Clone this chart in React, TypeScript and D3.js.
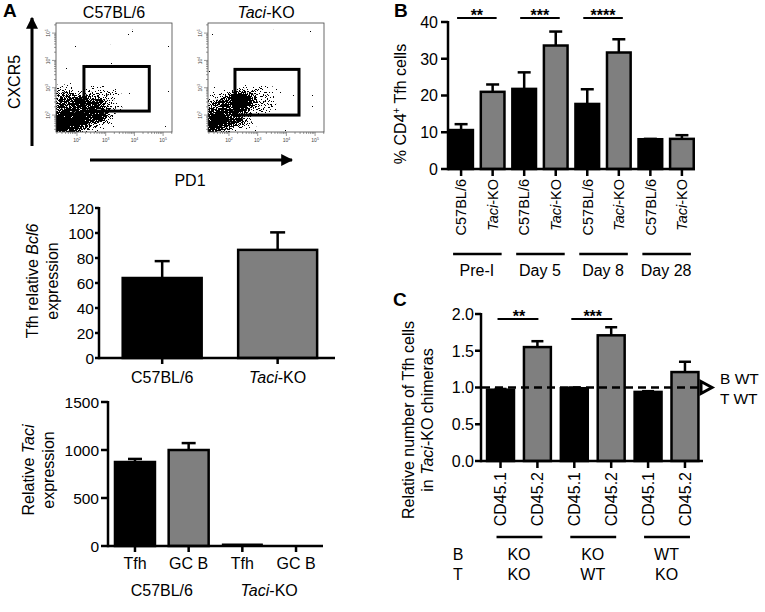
import React from "react";
import * as d3 from "d3";

// ---------- Panel A: flow cytometry ----------
const flowTitles = ["C57BL/6", "Taci-KO"];
const flowDecades = [2, 3, 4, 5];
const gatePD1 = [[175, 33000], [162, 27500]];
const gateCXCR5 = [[140, 6000], [100, 4700]];
// density blobs: [log10 PD1, log10 CXCR5, spread x (decades), spread y (decades), weight]
const cloudsWT = [
  [1.55, 1.65, 1.0, 0.75, 1],
  [2.2, 2.2, 1.05, 0.8, 0.75],
  [2.9, 2.45, 1.1, 0.85, 0.45],
  [1.55, 2.6, 0.6, 0.7, 0.6],
  [2.6, 1.85, 0.8, 0.55, 0.5],
];
const cloudsKO = [
  [2.4, 2.55, 0.65, 0.45, 1],
  [1.45, 1.64, 0.85, 0.6, 0.95],
  [1.86, 2.2, 0.95, 0.8, 0.75],
  [3.0, 2.55, 1.05, 0.8, 0.45],
  [2.3, 1.8, 0.7, 0.5, 0.5],
];

// ---------- Panel A: Bcl6 ----------
const bcl6Groups = ["C57BL/6", "Taci-KO"];
const bcl6Values = [64, 86.5];
const bcl6Errors = [13.5, 14];
const bcl6Ticks = [0, 20, 40, 60, 80, 100, 120];

// ---------- Panel A: Taci ----------
const taciCells = ["Tfh", "GC B", "Tfh ", "GC B "];
const taciStrains = ["C57BL/6", "Taci-KO"];
const taciValues = [875, 1000, 8, 0];
const taciErrors = [32, 72, 0, 0];
const taciTicks = [0, 500, 1000, 1500];

// ---------- Panel B ----------
const bLabels = ["C57BL/6", "Taci-KO", "C57BL/6", "Taci-KO", "C57BL/6", "Taci-KO", "C57BL/6", "Taci-KO"];
const bTimes = ["Pre-I", "Day 5", "Day 8", "Day 28"];
const bValues = [10.6, 21, 21.8, 33.6, 17.7, 31.7, 8.1, 8.2];
const bErrors = [1.6, 2, 4.5, 3.8, 4, 3.6, 0.1, 1];
const bTicks = [0, 10, 20, 30, 40];
const bSig = ["**", "***", "****"];

// ---------- Panel C ----------
const cLabels = ["CD45.1", "CD45.2", "CD45.1", "CD45.2", "CD45.1", "CD45.2"];
const cB = ["KO", "KO", "WT"];
const cT = ["KO", "WT", "KO"];
const cValues = [0.97, 1.55, 0.99, 1.71, 0.94, 1.21];
const cErrors = [0.01, 0.08, 0.01, 0.11, 0.01, 0.14];
const cTicks = [0, 0.5, 1, 1.5, 2];
const cSig = ["**", "***"];
const cReference = 1.0;

const FONT = "Liberation Sans, Arial, Helvetica, sans-serif";
const GRAY = "#7f7f7f";
const LW = 2.5;

function label(s: string) {
  if (s.startsWith("Taci")) {
    return (
      <>
        <tspan fontStyle="italic">Taci</tspan>
        {s.slice(4)}
      </>
    );
  }
  return s.trim();
}

function FlowPlot({ ox, idx, clouds }: { ox: number; idx: number; clouds: number[][] }) {
  const x = d3.scaleLog().domain([10 ** 1.27, 10 ** 5.31]).range([ox, ox + 116]);
  const y = d3.scaleLog().domain([10 ** 1.38, 10 ** 5.37]).range([132, 23]);
  const [x0, x1] = x.range();
  const [yb, yt] = y.range();
  const xt = x.ticks();
  const yt2 = y.ticks();
  const g = gatePD1[idx];
  const c = gateCXCR5[idx];
  const clipId = `clip${idx}`;
  const isMajor = (t: number) => Math.abs(Math.log10(t) - Math.round(Math.log10(t))) < 1e-6;
  return (
    <g>
      <clipPath id={clipId}>
        <rect x={x0} y={yt} width={x1 - x0} height={yb - yt} />
      </clipPath>
      <g clipPath={`url(#${clipId})`}>
        <g filter="url(#speckle)">
          {clouds.map((d, i) => {
            const cx = x(10 ** d[0]);
            const cy = y(10 ** d[1]);
            const rx = x(10 ** (d[0] + d[2])) - cx;
            const ry = cy - y(10 ** (d[1] + d[3]));
            return <ellipse key={i} cx={cx} cy={cy} rx={rx} ry={ry} fill="url(#blob)" fillOpacity={d[4]} />;
          })}
        </g>
      </g>
      <rect x={x0} y={yt} width={x1 - x0} height={yb - yt} fill="none" stroke="#444" strokeWidth={0.8} />
      {xt.map((t, i) => (
        <line key={i} x1={x(t)} x2={x(t)} y1={yb} y2={yb + (isMajor(t) ? 4 : 2)} stroke="#555" strokeWidth={0.6} />
      ))}
      {yt2.map((t, i) => (
        <line key={i} y1={y(t)} y2={y(t)} x1={x0} x2={x0 - (isMajor(t) ? 4 : 2)} stroke="#555" strokeWidth={0.6} />
      ))}
      {flowDecades.map((p) => (
        <text key={"x" + p} x={x(10 ** p)} y={yb + 10} fontSize={5} textAnchor="middle" fill="#444">
          10<tspan dy={-2} fontSize={3.5}>{p}</tspan>
        </text>
      ))}
      {flowDecades.map((p) => (
        <text key={"y" + p} transform={`translate(${x0 - 6},${y(10 ** p)}) rotate(-90)`} fontSize={5} textAnchor="middle" fill="#444">
          10<tspan dy={-2} fontSize={3.5}>{p}</tspan>
        </text>
      ))}
      <rect x={x(g[0])} y={y(c[1])} width={x(g[1]) - x(g[0])} height={y(c[0]) - y(c[1])} fill="none" stroke="#000" strokeWidth={3} />
      <text x={(x0 + x1) / 2} y={18} fontSize={16} textAnchor="middle">
        {label(flowTitles[idx])}
      </text>
    </g>
  );
}

type BarProps = {
  ax0: number;
  ax1: number;
  yScale: d3.ScaleLinear<number, number>;
  band: d3.ScaleBand<string>;
  cats: string[];
  values: number[];
  errors: number[];
  ticks: number[];
  fmt: (v: number) => string;
  tickLen: number;
  labelGap: number;
  xTickLen: number;
  fontSize: number;
  cap: number;
  fills: string[];
};

function BarChart(p: BarProps) {
  const y0 = p.yScale(0);
  const yTop = p.yScale(p.ticks[p.ticks.length - 1]);
  return (
    <g>
      {p.cats.map((c, i) => {
        const bx = p.band(c)!;
        const bw = p.band.bandwidth();
        const v = p.values[i];
        const e = p.errors[i];
        const cx = bx + bw / 2;
        const thin = y0 - p.yScale(v) < 3;
        return (
          <g key={i}>
            {e > 0 && (
              <g stroke="#000" strokeWidth={LW}>
                <line x1={cx} x2={cx} y1={p.yScale(v)} y2={p.yScale(v + e)} />
                <line x1={cx - p.cap / 2} x2={cx + p.cap / 2} y1={p.yScale(v + e)} y2={p.yScale(v + e)} />
              </g>
            )}
            {v > 0 && (
              <rect x={bx} y={thin ? y0 - 2 : p.yScale(v)} width={bw} height={thin ? 1 : y0 - p.yScale(v)} fill={p.fills[i]} stroke="#000" strokeWidth={thin ? 1 : LW} />
            )}
            <line x1={cx} x2={cx} y1={y0} y2={y0 + p.xTickLen} stroke="#000" strokeWidth={LW} />
          </g>
        );
      })}
      <line x1={p.ax0} x2={p.ax0} y1={yTop - 1} y2={y0 + LW / 2} stroke="#000" strokeWidth={LW} />
      <line x1={p.ax0} x2={p.ax1} y1={y0} y2={y0} stroke="#000" strokeWidth={LW} />
      {p.ticks.map((t) => (
        <g key={t}>
          <line x1={p.ax0 - p.tickLen} x2={p.ax0} y1={p.yScale(t)} y2={p.yScale(t)} stroke="#000" strokeWidth={LW} />
          <text x={p.ax0 - p.labelGap} y={p.yScale(t)} dy="0.36em" fontSize={p.fontSize} textAnchor="end">
            {p.fmt(t)}
          </text>
        </g>
      ))}
    </g>
  );
}

function RotTitle({ x, y, lines, size = 16 }: { x: number[]; y: number; lines: React.ReactNode[]; size?: number }) {
  return (
    <>
      {lines.map((l, i) => (
        <text key={i} transform={`translate(${x[i]},${y}) rotate(-90)`} dy="0.36em" fontSize={size} textAnchor="middle">
          {l}
        </text>
      ))}
    </>
  );
}

export default function App() {
  // A middle
  const bcl6Y = d3.scaleLinear().domain([0, 120]).range([358, 208]);
  const bcl6X = d3.scaleBand().domain(bcl6Groups).range([99, 335]).paddingInner(0.316).paddingOuter(0.18).align(0.57);
  // A bottom
  const taciY = d3.scaleLinear().domain([0, 1500]).range([546, 402]);
  const taciX = d3.scaleBand().domain(taciCells).range([108, 323]).paddingInner(0.255).paddingOuter(0.13);
  // B
  const bY = d3.scaleLinear().domain([0, 40]).range([169, 22]);
  const bKeys = bLabels.map((l, i) => l + i);
  const bX = d3.scaleBand().domain(bKeys).range([448, 695]).paddingInner(0.25).paddingOuter(0.04);
  // C
  const cY = d3.scaleLinear().domain([0, 2]).range([461, 314]);
  const cKeys = cLabels.map((l, i) => l + i);
  const cX = d3.scaleBand().domain(cKeys).range([481, 703]).paddingInner(0.27).paddingOuter(0.144).align(0.57);

  const center = (s: d3.ScaleBand<string>, k: string) => s(k)! + s.bandwidth() / 2;

  return (
    <svg width={765} height={612} style={{ position: "absolute", left: 0, top: 0, background: "#fff" }} fontFamily={FONT}>
      <defs>
        <radialGradient id="blob">
          <stop offset="0%" stopColor="#000" stopOpacity={1} />
          <stop offset="55%" stopColor="#000" stopOpacity={0.7} />
          <stop offset="100%" stopColor="#000" stopOpacity={0} />
        </radialGradient>
        <filter id="speckle" filterUnits="userSpaceOnUse" x="0" y="0" width="765" height="200" colorInterpolationFilters="sRGB">
          <feGaussianBlur in="SourceAlpha" stdDeviation="2.5" result="d" />
          <feTurbulence type="fractalNoise" baseFrequency="0.95" numOctaves="2" seed="7" result="n" />
          <feColorMatrix in="n" type="matrix" values="0 0 0 0 0  0 0 0 0 0  0 0 0 0 0  1 0 0 0 0" result="na" />
          <feComposite in="d" in2="na" operator="arithmetic" k1="0" k2="2.5" k3="-4" k4="0.68" result="c" />
          <feColorMatrix in="c" type="matrix" values="0 0 0 0 0  0 0 0 0 0  0 0 0 0 0  0 0 0 30 0" />
        </filter>
        <marker id="arrow" viewBox="0 0 10 10" refX="9" refY="5" markerWidth="4" markerHeight="4" orient="auto">
          <path d="M0,0 L10,5 L0,10 z" fill="#000" />
        </marker>
      </defs>

      {/* Panel letters */}
      <text x={3} y={17} fontSize={19} fontWeight="bold">A</text>
      <text x={394} y={17} fontSize={19} fontWeight="bold">B</text>
      <text x={393} y={306} fontSize={19} fontWeight="bold">C</text>

      {/* ---- A flow ---- */}
      <FlowPlot ox={56} idx={0} clouds={cloudsWT} />
      <FlowPlot ox={208} idx={1} clouds={cloudsKO} />
      <line x1={32} x2={32} y1={146} y2={18} stroke="#000" strokeWidth={3} markerEnd="url(#arrow)" />
      <line x1={90} x2={292} y1={160} y2={160} stroke="#000" strokeWidth={3} markerEnd="url(#arrow)" />
      <text transform="translate(14,82) rotate(-90)" dy="0.36em" fontSize={16} textAnchor="middle">CXCR5</text>
      <text x={190} y={186} fontSize={16} textAnchor="middle">PD1</text>

      {/* ---- A Bcl6 ---- */}
      <BarChart ax0={99} ax1={335} yScale={bcl6Y} band={bcl6X} cats={bcl6Groups} values={bcl6Values} errors={bcl6Errors}
        ticks={bcl6Ticks} fmt={(v) => String(v)} tickLen={4} labelGap={5} xTickLen={6} fontSize={15.5} cap={15}
        fills={["#000", GRAY]} />
      {bcl6Groups.map((g) => (
        <text key={g} x={center(bcl6X, g)} y={383} fontSize={16} textAnchor="middle">{label(g)}</text>
      ))}
      <RotTitle x={[32, 52]} y={281} lines={[<>Tfh relative <tspan fontStyle="italic">Bcl6</tspan></>, "expression"]} />

      {/* ---- A Taci ---- */}
      <BarChart ax0={108} ax1={323} yScale={taciY} band={taciX} cats={taciCells} values={taciValues} errors={taciErrors}
        ticks={taciTicks} fmt={(v) => String(v)} tickLen={7} labelGap={9} xTickLen={6} fontSize={15.5} cap={14}
        fills={["#000", GRAY, "#000", GRAY]} />
      {taciCells.map((c) => (
        <text key={c} x={center(taciX, c)} y={569} fontSize={16} textAnchor="middle">{c.trim()}</text>
      ))}
      {taciStrains.map((s, i) => {
        const a = center(taciX, taciCells[i * 2]);
        const b = center(taciX, taciCells[i * 2 + 1]);
        return <text key={s} x={(a + b) / 2} y={596} fontSize={16} textAnchor="middle">{label(s)}</text>;
      })}
      <RotTitle x={[28, 48]} y={470} lines={[<>Relative <tspan fontStyle="italic">Taci</tspan></>, "expression"]} />

      {/* ---- B ---- */}
      <BarChart ax0={448} ax1={695} yScale={bY} band={bX} cats={bKeys} values={bValues} errors={bErrors}
        ticks={bTicks} fmt={(v) => String(v)} tickLen={7} labelGap={10} xTickLen={7} fontSize={16} cap={13}
        fills={bKeys.map((_, i) => (i % 2 ? GRAY : "#000"))} />
      {bKeys.map((k, i) => (
        <text key={k} transform={`translate(${center(bX, k)},179) rotate(-90)`} dy="0.36em" fontSize={14.5} textAnchor="end">
          {label(bLabels[i])}
        </text>
      ))}
      {bTimes.map((t, i) => {
        const a = center(bX, bKeys[i * 2]);
        const b = center(bX, bKeys[i * 2 + 1]);
        return (
          <g key={t}>
            <line x1={a - 8} x2={b + 9} y1={254} y2={254} stroke="#000" strokeWidth={LW} />
            <text x={(a + b) / 2} y={276} fontSize={16} textAnchor="middle">{t}</text>
          </g>
        );
      })}
      {bSig.map((s, i) => {
        const a = center(bX, bKeys[i * 2]);
        const b = center(bX, bKeys[i * 2 + 1]);
        return (
          <g key={s}>
            <line x1={a - 4} x2={b + 4} y1={18} y2={18} stroke="#000" strokeWidth={2} />
            <text x={(a + b) / 2} y={21} fontSize={16} fontWeight="bold" textAnchor="middle">{s}</text>
          </g>
        );
      })}
      <text transform="translate(400,104) rotate(-90)" dy="0.36em" fontSize={16} textAnchor="middle">
        % CD4<tspan dy={-6} fontSize={10}>+</tspan><tspan dy={6}> Tfh cells</tspan>
      </text>

      {/* ---- C ---- */}
      <BarChart ax0={481} ax1={703} yScale={cY} band={cX} cats={cKeys} values={cValues} errors={cErrors}
        ticks={cTicks} fmt={d3.format(".1f")} tickLen={6} labelGap={7} xTickLen={7} fontSize={16} cap={12}
        fills={cKeys.map((_, i) => (i % 2 ? GRAY : "#000"))} />
      <line x1={482} x2={700} y1={cY(cReference)} y2={cY(cReference)} stroke="#000" strokeWidth={2.5} strokeDasharray="8,5" />
      <path d={`M${701},${cY(cReference) - 6} L${712},${cY(cReference)} L${701},${cY(cReference) + 6} Z`} fill="#fff" stroke="#000" strokeWidth={3} strokeLinejoin="miter" />
      <text x={720} y={384} fontSize={15.5}>B WT</text>
      <text x={720} y={404} fontSize={15.5}>T WT</text>
      {cKeys.map((k, i) => (
        <text key={k} transform={`translate(${center(cX, k)},472) rotate(-90)`} dy="0.36em" fontSize={16} textAnchor="end">
          {cLabels[i]}
        </text>
      ))}
      {cB.map((b, i) => {
        const a = center(cX, cKeys[i * 2]);
        const c = center(cX, cKeys[i * 2 + 1]);
        return (
          <g key={i}>
            <line x1={a - 4} x2={c + 5} y1={537} y2={537} stroke="#000" strokeWidth={LW} />
            <text x={(a + c) / 2} y={560} fontSize={16} textAnchor="middle">{b}</text>
            <text x={(a + c) / 2} y={580} fontSize={16} textAnchor="middle">{cT[i]}</text>
          </g>
        );
      })}
      <text x={458} y={560} fontSize={16} textAnchor="middle">B</text>
      <text x={458} y={580} fontSize={16} textAnchor="middle">T</text>
      {cSig.map((s, i) => {
        const a = center(cX, cKeys[i * 2]);
        const b = center(cX, cKeys[i * 2 + 1]);
        return (
          <g key={s}>
            <line x1={a - 3} x2={b + 1} y1={319} y2={319} stroke="#000" strokeWidth={2} />
            <text x={(a + b) / 2} y={322} fontSize={16} fontWeight="bold" textAnchor="middle">{s}</text>
          </g>
        );
      })}
      <RotTitle x={[408, 427]} y={420} lines={["Relative number of Tfh cells", <>in <tspan fontStyle="italic">Taci</tspan>-KO chimeras</>]} />
    </svg>
  );
}
